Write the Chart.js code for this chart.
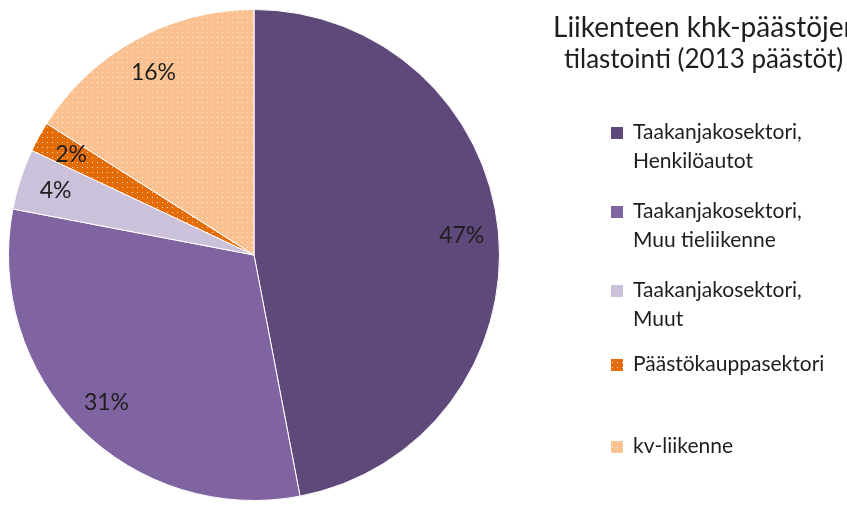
<!DOCTYPE html>
<html>
<head>
<meta charset="utf-8">
<script src="https://cdn.jsdelivr.net/npm/chart.js@4.4.1/dist/chart.umd.min.js"></script>
<style>
  html, body { margin: 0; padding: 0; background: #fff; overflow: hidden; }
  #wrap { position: relative; width: 847px; height: 509px; }
</style>
</head>
<body>
<div id="wrap"><canvas id="chart" width="847" height="509"></canvas></div>
<script>
const labels = [
  ["Taakanjakosektori,", "Henkilöautot"],
  ["Taakanjakosektori,", "Muu tieliikenne"],
  ["Taakanjakosektori,", "Muut"],
  ["Päästökauppasektori"],
  ["kv-liikenne"],
];
const values = [47, 31, 4, 2, 16];
const colors = ["#5f497a", "#8064a2", "#ccc1da", "#e36c09", "#fac090"];
const dotted = [false, false, false, true, true];
const titleLine1 = "Liikenteen khk-päästöjen";
const titleLine2 = "tilastointi (2013 päästöt)";

const FONT = "Lato, 'Open Sans', sans-serif";
const TEXT = "#1e1e1e";

// small dotted fill like the original
function dots(color) {
  const c = document.createElement("canvas");
  c.width = 5; c.height = 5;
  const g = c.getContext("2d");
  g.fillStyle = color;
  g.fillRect(0, 0, 5, 5);
  g.fillStyle = "rgba(255,255,255,0.75)";
  g.fillRect(2, 2, 1, 1);
  return g.createPattern(c, "repeat");
}

const ctx = document.getElementById("chart").getContext("2d");
const fills = colors.map((c, i) => (dotted[i] ? dots(c) : c));

const sliceLabels = {
  id: "sliceLabels",
  afterDatasetsDraw(chart) {
    const g = chart.ctx;
    const meta = chart.getDatasetMeta(0);
    g.save();
    g.font = "23px " + FONT;
    g.fillStyle = TEXT;
    g.textAlign = "center";
    g.textBaseline = "middle";
    meta.data.forEach((arc, i) => {
      const mid = (arc.startAngle + arc.endAngle) / 2;
      const r = arc.outerRadius * 0.85;
      g.fillText(values[i] + "%", arc.x + Math.cos(mid) * r, arc.y + Math.sin(mid) * r);
    });
    g.restore();
  },
};

const sideText = {
  id: "sideText",
  afterDraw(chart) {
    const g = chart.ctx;
    g.save();
    g.fillStyle = TEXT;
    g.textBaseline = "middle";
    g.textAlign = "left";
    g.font = "28px " + FONT;
    g.fillText(titleLine1, 553, 28);
    g.font = "26px " + FONT;
    g.fillText(titleLine2, 564, 60);

    g.font = "21px " + FONT;
    const rowY = [132, 211, 290, 364, 446];
    labels.forEach((lines, i) => {
      g.fillStyle = fills[i];
      g.fillRect(611, rowY[i] - 5, 12, 12);
      g.fillStyle = TEXT;
      lines.forEach((t, j) => g.fillText(t, 633, rowY[i] + j * 29));
    });
    g.restore();
  },
};

new Chart(ctx, {
  type: "pie",
  data: {
    labels: labels.map((l) => l.join(" ")),
    datasets: [
      {
        data: values,
        backgroundColor: fills,
        borderColor: "#ffffff",
        borderWidth: 1,
      },
    ],
  },
  options: {
    responsive: false,
    animation: false,
    layout: { padding: { left: 8, right: 347, top: 9, bottom: 8 } },
    plugins: {
      legend: { display: false },
      tooltip: { enabled: false },
    },
  },
  plugins: [sliceLabels, sideText],
});
</script>
</body>
</html>
